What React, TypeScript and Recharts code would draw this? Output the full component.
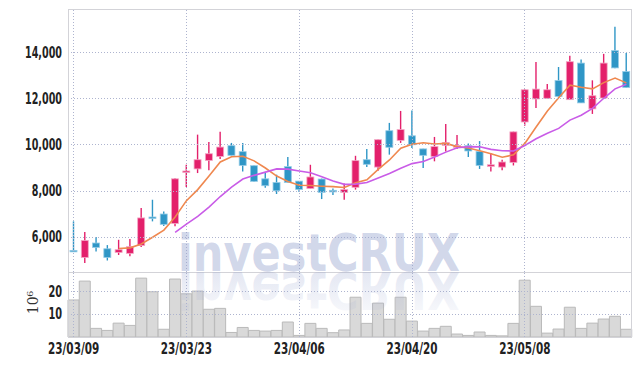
import { ComposedChart, Bar, Line, XAxis, YAxis, ReferenceLine } from "recharts"

const dates = [
  "23/03/09", "23/03/10", "23/03/13", "23/03/14", "23/03/15", "23/03/16", "23/03/17", "23/03/20", "23/03/21", "23/03/22",
  "23/03/23", "23/03/24", "23/03/27", "23/03/28", "23/03/29", "23/03/30", "23/03/31", "23/04/03", "23/04/04", "23/04/05",
  "23/04/06", "23/04/07", "23/04/10", "23/04/11", "23/04/12", "23/04/13", "23/04/14", "23/04/17", "23/04/18", "23/04/19",
  "23/04/20", "23/04/21", "23/04/24", "23/04/25", "23/04/26", "23/04/27", "23/04/28", "23/05/02", "23/05/03", "23/05/04",
  "23/05/08", "23/05/09", "23/05/10", "23/05/11", "23/05/12", "23/05/15", "23/05/16", "23/05/17", "23/05/18", "23/05/19",
]

const opens = [
  5420, 5110, 5740, 5490, 5330, 5290, 5630, 6870, 7000, 6590,
  8830, 8960, 9330, 9500, 9970, 9710, 9100, 8530, 8370, 9060,
  8430, 8110, 8520, 8030, 7940, 8160, 9360, 9040, 10620, 10200,
  10400, 9830, 9500, 9980, 9900, 9970, 9720, 9070, 9040, 9240,
  11000, 12000, 12030, 12800, 11970, 13560, 11570, 12040, 14100, 13190,
]
const highs = [
  6680, 6220, 6000, 5650, 5880, 5910, 7260, 7620, 7110, 8550,
  9140, 10450, 10130, 10570, 10090, 10090, 9110, 8780, 8710, 9480,
  8440, 9140, 8540, 8110, 8330, 9530, 9830, 10240, 10960, 11480,
  11500, 9840, 10350, 10910, 10430, 10060, 10170, 9650, 9360, 10580,
  12420, 13610, 12650, 13390, 13880, 13710, 12810, 13960, 15140, 14000,
]
const lows = [
  5400, 4870, 5370, 4980, 5220, 5160, 5570, 6680, 6480, 6470,
  8170, 8780, 8900, 9390, 9540, 8850, 8400, 8140, 7870, 8360,
  7960, 8100, 7650, 7830, 7620, 8060, 9040, 8880, 9580, 10090,
  9870, 9000, 9290, 9720, 9830, 9480, 8960, 8850, 8900, 9110,
  10840, 11610, 12020, 12100, 11960, 11820, 11350, 12030, 13340, 12490,
]
const closes = [
  5400, 5850, 5550, 5110, 5450, 5580, 6830, 6850, 6550, 8530,
  8870, 9360, 9620, 9910, 9550, 9110, 8420, 8230, 8010, 8370,
  8070, 8610, 7940, 7960, 8060, 9320, 9160, 10230, 9900, 10670,
  10010, 9550, 9930, 10110, 9980, 9740, 9110, 9140, 9260, 10570,
  12400, 12430, 12400, 12110, 13620, 11830, 12140, 13560, 13350, 12500,
]

// moving averages
const ma5 = [
  null, null, null, null, 5500, 5530, 5700, 5990, 6300, 6870,
  7580, 8060, 8650, 9260, 9490, 9510, 9310, 9000, 8650, 8410,
  8250, 8240, 8210, 8190, 8150, 8360, 8490, 8940, 9350, 9860,
  10030, 10100, 10040, 10070, 9930, 9870, 9750, 9620, 9470, 9570,
  10070, 10780, 11480, 12050, 12600, 12510, 12440, 12710, 12910, 12700,
]
const ma10 = [
  null, null, null, null, null, null, null, null, null, 6200,
  6560, 6900, 7300, 7760, 8170, 8520, 8680, 8820, 8960, 8950,
  8870, 8790, 8620, 8430, 8290, 8300, 8370, 8570, 8760, 8990,
  9190, 9280, 9480, 9690, 9880, 9930, 9920, 9810, 9750, 9740,
  9980, 10270, 10510, 10720, 11080, 11290, 11590, 12030, 12440, 12640,
]

// volume in millions
const volumes = [
  16.3, 24.6, 3.8, 2.9, 6.1, 5.1, 25.9, 19.9, 3.4, 25.5,
  19.0, 20.2, 12.2, 12.6, 2.0, 4.2, 2.9, 2.6, 2.9, 6.6,
  0.7, 6.0, 3.8, 1.9, 3.1, 17.5, 6.0, 14.9, 7.8, 17.5,
  7.0, 2.6, 3.8, 4.7, 1.3, 0.7, 2.2, 0.7, 0.5, 6.0,
  25.0, 13.5, 1.7, 3.5, 13.1, 3.8, 6.1, 7.9, 9.1, 3.4,
]

const dateTicks = ["23/03/09", "23/03/23", "23/04/06", "23/04/20", "23/05/08"]
const priceTicks = [6000, 8000, 10000, 12000, 14000]
const volumeTicks = [10, 20]

const PRICE_DOMAIN = [4480, 15910]
const VOLUME_DOMAIN = [0, 28.6]

const data = dates.map((date, i) => ({
  date,
  open: opens[i],
  high: highs[i],
  low: lows[i],
  close: closes[i],
  range: [lows[i], highs[i]],
  ma5: ma5[i],
  ma10: ma10[i],
  volume: volumes[i],
}))

const UP = "#e3206b"
const DOWN = "#2f96c6"
const gridColor = "#aeb4cf"
const FONT = "'DejaVu Sans Condensed', 'DejaVu Sans', sans-serif"

// plot geometry (both panels share the same x extent)
const PLOT_LEFT = 68
const PLOT_W = 564
const PRICE_TOP = 9
const PRICE_H = 263
const VOL_TOP = 272
const VOL_H = 65

const priceY = (v: number) =>
  PRICE_TOP + ((PRICE_DOMAIN[1] - v) / (PRICE_DOMAIN[1] - PRICE_DOMAIN[0])) * PRICE_H
const volumeY = (v: number) =>
  VOL_TOP + ((VOLUME_DOMAIN[1] - v) / (VOLUME_DOMAIN[1] - VOLUME_DOMAIN[0])) * VOL_H

// squeeze labels to the narrow look of the original
function labelWidth(s: string) {
  let w = 0
  for (const ch of s) {
    if (ch === ",") w += 3
    else if (ch === "/") w += 5.2
    else w += 6.8
  }
  return w
}

const snap = (v: number) => Math.floor(Number(v)) + 0.5

function YTick(props: any) {
  const { x, y, payload, tickFormatter } = props
  const s = tickFormatter ? tickFormatter(payload.value) : String(payload.value)
  return (
    <text
      x={x}
      y={y}
      textAnchor="end"
      dominantBaseline="central"
      fontFamily={FONT}
      fontWeight={700}
      fontSize={15}
      fill="#222"
      textLength={labelWidth(s)}
      lengthAdjust="spacingAndGlyphs"
    >
      {s}
    </text>
  )
}

function XTick(props: any) {
  const { x, y, payload } = props
  const s = String(payload.value)
  return (
    <text
      x={x}
      y={y + 11}
      textAnchor="middle"
      fontFamily={FONT}
      fontWeight={700}
      fontSize={15.5}
      fill="#222"
      textLength={labelWidth(s)}
      lengthAdjust="spacingAndGlyphs"
    >
      {s}
    </text>
  )
}

// dotted vertical grid line snapped to the pixel grid
function GridLine(props: any) {
  const { x1, y1, x2, y2 } = props
  if ([x1, y1, x2, y2].some((v) => typeof v !== "number" || isNaN(v))) return null
  return (
    <line
      x1={snap(x1)}
      x2={snap(x2)}
      y1={y1}
      y2={y2}
      stroke={gridColor}
      strokeWidth={1}
      strokeDasharray="1 2"
    />
  )
}

function Candle(props: any) {
  const { x, y, width, height, payload } = props
  if (!payload) return null
  const { open, close, high, low } = payload
  const up = close >= open
  const color = up ? UP : DOWN
  const span = high - low || 1
  const toY = (v: number) => y + ((high - v) / span) * height
  const cx = x + width / 2
  const top = toY(Math.max(open, close))
  const bottom = toY(Math.min(open, close))
  const bodyH = Math.max(bottom - top, 1.5)
  const bw = 7
  return (
    <g>
      <line x1={cx} x2={cx} y1={y} y2={y + height} stroke={color} strokeWidth={1.4} />
      <rect
        x={cx - bw / 2}
        y={top}
        width={bw}
        height={bodyH}
        fill={color}
        stroke={up ? "#f3a6c4" : "#93cbe6"}
        strokeWidth={0.8}
      />
    </g>
  )
}

function VolumeLabel(props: any) {
  const vb = props.viewBox || { x: 8, y: 0, width: 60, height: 65 }
  const cx = 33
  const cy = vb.y + vb.height / 2 - 2
  return (
    <text
      x={cx}
      y={cy}
      transform={`rotate(-90 ${cx} ${cy})`}
      textAnchor="middle"
      dominantBaseline="central"
      fontFamily="'DejaVu Serif', serif"
      fontSize={14}
      fill="#333"
    >
      10⁶
    </text>
  )
}

export default function App() {
  const hLines = [...priceTicks.map(priceY), ...volumeTicks.map(volumeY)]
  return (
    <div style={{ position: "absolute", left: 0, top: 0, width: 642, height: 366, background: "#fff" }}>
      <div style={{ position: "absolute", left: 0, top: 0 }}>
        <ComposedChart
          width={642}
          height={272}
          data={data}
          margin={{ top: 9, right: 10, bottom: 0, left: 8 }}
          barCategoryGap={0}
        >
          <XAxis
            dataKey="date"
            interval={0}
            height={0}
            tick={false}
            axisLine={false}
            tickLine={false}
          />
          <YAxis
            domain={PRICE_DOMAIN}
            ticks={priceTicks}
            interval={0}
            allowDataOverflow
            width={60}
            axisLine={false}
            tickLine={false}
            tickSize={0}
            tickMargin={6}
            tick={<YTick />}
            tickFormatter={(v: number) => v.toLocaleString("en-US")}
          />
          {dateTicks.map((d) => (
            <ReferenceLine key={`px${d}`} x={d} shape={GridLine} />
          ))}
          <Bar dataKey="range" shape={Candle} isAnimationActive={false} />
          <Line
            type="linear"
            dataKey="ma5"
            stroke="#ef884f"
            strokeWidth={1.6}
            dot={false}
            isAnimationActive={false}
          />
          <Line
            type="linear"
            dataKey="ma10"
            stroke="#c95ce7"
            strokeWidth={1.6}
            dot={false}
            isAnimationActive={false}
          />
        </ComposedChart>
      </div>

      <div style={{ position: "absolute", left: 0, top: 272 }}>
        <ComposedChart
          width={642}
          height={94}
          data={data}
          margin={{ top: 0, right: 10, bottom: 0, left: 8 }}
          barCategoryGap={0}
        >
          <XAxis
            dataKey="date"
            ticks={dateTicks}
            interval={0}
            height={29}
            axisLine={false}
            tickLine={false}
            tickSize={0}
            tickMargin={6}
            tick={<XTick />}
          />
          <YAxis
            domain={VOLUME_DOMAIN}
            ticks={volumeTicks}
            interval={0}
            allowDataOverflow
            width={60}
            axisLine={false}
            tickLine={false}
            tickSize={0}
            tickMargin={6}
            tick={<YTick />}
            label={<VolumeLabel />}
          />
          {dateTicks.map((d) => (
            <ReferenceLine key={`vx${d}`} x={d} shape={GridLine} />
          ))}
          <Bar dataKey="volume" fill="#d9d9d9" stroke="#bababa" strokeWidth={1} isAnimationActive={false} />
        </ComposedChart>
      </div>

      {/* horizontal dotted grid, frame and watermark */}
      <svg width={642} height={366} style={{ position: "absolute", left: 0, top: 0, pointerEvents: "none" }}>
        <defs>
          <linearGradient id="wmFade" x1="0" y1="0" x2="0" y2="1">
            <stop offset="0" stopColor="#9aa6d0" stopOpacity={0.05} />
            <stop offset="1" stopColor="#9aa6d0" stopOpacity={0.32} />
          </linearGradient>
        </defs>
        {hLines.map((y, i) => (
          <line
            key={i}
            x1={PLOT_LEFT}
            x2={PLOT_LEFT + PLOT_W}
            y1={snap(y)}
            y2={snap(y)}
            stroke={gridColor}
            strokeWidth={1}
            strokeDasharray="1 2"
          />
        ))}
        <rect
          x={PLOT_LEFT + 0.5}
          y={PRICE_TOP + 0.5}
          width={PLOT_W - 1}
          height={PRICE_H + VOL_H}
          fill="none"
          stroke="#d3d3d8"
        />
        <line x1={PLOT_LEFT} x2={PLOT_LEFT + PLOT_W} y1={VOL_TOP + 0.5} y2={VOL_TOP + 0.5} stroke="#d3d3d8" />
        <text
          x={319}
          y={271}
          textAnchor="middle"
          fontFamily="'DejaVu Sans', sans-serif"
          fontWeight="bold"
          fontSize={52}
          textLength={282}
          lengthAdjust="spacingAndGlyphs"
          fill="#9aa6d0"
          fillOpacity={0.45}
        >
          investCRUX
        </text>
        <text
          x={319}
          y={271}
          transform="translate(0 543) scale(1 -1)"
          textAnchor="middle"
          fontFamily="'DejaVu Sans', sans-serif"
          fontWeight="bold"
          fontSize={52}
          textLength={282}
          lengthAdjust="spacingAndGlyphs"
          fill="url(#wmFade)"
        >
          investCRUX
        </text>
      </svg>
    </div>
  )
}
